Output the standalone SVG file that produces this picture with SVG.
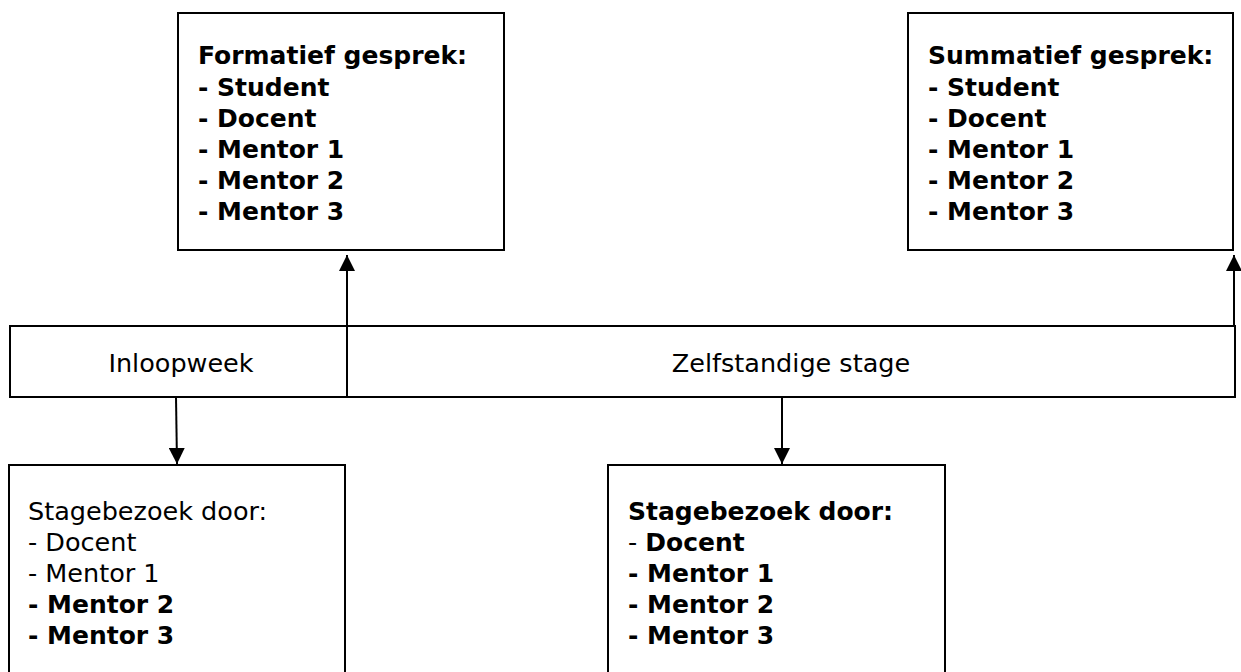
<svg xmlns="http://www.w3.org/2000/svg" width="1241" height="672" viewBox="0 0 1241 672">
<style>
.box{fill:#fff;stroke:#000;stroke-width:2}
.t{font-family:"DejaVu Sans",Verdana,sans-serif;font-size:25.5px;fill:#000}
.b{font-weight:bold;font-size:25px}
.conn{stroke:#000;stroke-width:2;fill:none}
</style>
<defs>
<marker id="arr" markerUnits="userSpaceOnUse" markerWidth="16" markerHeight="16" refX="16" refY="8" orient="auto">
<path d="M0,0 L16,8 L0,16 z" fill="#000"/>
</marker>
</defs>
<rect width="1241" height="672" fill="#fff"/>
<g id="formatief">
<rect class="box" x="178" y="13" width="326" height="237"/>
<text class="t b" x="198" y="64">Formatief gesprek:</text>
<text class="t b" x="198" y="96">- Student</text>
<text class="t b" x="198" y="127">- Docent</text>
<text class="t b" x="198" y="158">- Mentor 1</text>
<text class="t b" x="198" y="189">- Mentor 2</text>
<text class="t b" x="198" y="220">- Mentor 3</text>
</g>
<g id="summatief">
<rect class="box" x="908" y="13" width="325" height="237"/>
<text class="t b" x="928" y="64">Summatief gesprek:</text>
<text class="t b" x="928" y="96">- Student</text>
<text class="t b" x="928" y="127">- Docent</text>
<text class="t b" x="928" y="158">- Mentor 1</text>
<text class="t b" x="928" y="189">- Mentor 2</text>
<text class="t b" x="928" y="220">- Mentor 3</text>
</g>
<g id="timeline">
<rect class="box" x="10" y="326" width="1225" height="71"/>
<line class="conn" x1="347" y1="326" x2="347" y2="397"/>
</g>
<g id="inloopweek">
<text class="t" x="181" y="372" text-anchor="middle">Inloopweek</text>
</g>
<g id="zelfstandige">
<text class="t" x="791" y="372" text-anchor="middle">Zelfstandige stage</text>
</g>
<g id="bezoek1">
<rect class="box" x="9" y="465" width="336" height="230"/>
<text class="t" x="28" y="520">Stagebezoek door:</text>
<text class="t" x="28" y="551">- Docent</text>
<text class="t" x="28" y="582">- Mentor 1</text>
<text class="t b" x="28" y="613">- Mentor 2</text>
<text class="t b" x="28" y="644">- Mentor 3</text>
</g>
<g id="bezoek2">
<rect class="box" x="608" y="465" width="337" height="230"/>
<text class="t b" x="628" y="520">Stagebezoek door:</text>
<text class="t" x="628" y="551">- <tspan class="b">Docent</tspan></text>
<text class="t b" x="628" y="582">- Mentor 1</text>
<text class="t b" x="628" y="613">- Mentor 2</text>
<text class="t b" x="628" y="644">- Mentor 3</text>
</g>
<g id="connectors">
<line class="conn" x1="347" y1="326" x2="347" y2="255" marker-end="url(#arr)"/>
<line class="conn" x1="1234" y1="326" x2="1234" y2="255" marker-end="url(#arr)"/>
<line class="conn" x1="176" y1="397" x2="177" y2="464" marker-end="url(#arr)"/>
<line class="conn" x1="782" y1="397" x2="782" y2="464" marker-end="url(#arr)"/>
</g>
</svg>
